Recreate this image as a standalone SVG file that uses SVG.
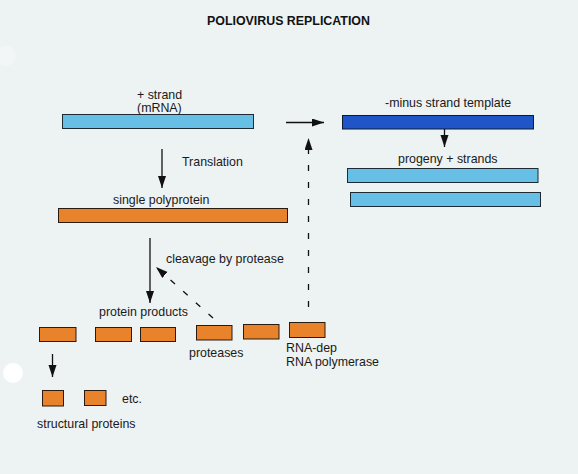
<svg xmlns="http://www.w3.org/2000/svg" width="578" height="474" viewBox="0 0 578 474">
<defs>
<marker id="ah" markerUnits="userSpaceOnUse" markerWidth="13" markerHeight="9" refX="12" refY="4" orient="auto">
<path d="M0,0 L12,4 L0,8 Z" fill="#111"/>
</marker>
<style>
text{font-family:"Liberation Sans",Arial,Helvetica,sans-serif;font-size:12.4px;fill:#1a1a1a}
.title{font-size:12.4px;font-weight:bold;fill:#111}
.lb{fill:#67BFE6;stroke:#1d2a33;stroke-width:1}
.db{fill:#1F55C6;stroke:#0d1a33;stroke-width:1}
.or{fill:#E8822B;stroke:#2a1a10;stroke-width:1}
.ar{stroke:#111;stroke-width:1.3;fill:none;marker-end:url(#ah)}
.da{stroke:#111;stroke-width:1.3;fill:none;stroke-dasharray:6 11;marker-end:url(#ah)}
</style>
</defs>
<rect width="578" height="474" fill="#EDF2F3"/>
<circle cx="13" cy="373" r="10" fill="#ffffff"/>
<circle cx="6" cy="56" r="10" fill="#F2F6F6"/>
<text class="title" x="207" y="25">POLIOVIRUS REPLICATION</text>

<g id="plus-strand">
<rect class="lb" x="62.5" y="114.5" width="191" height="14"/>
<text x="137" y="98.5">+ strand</text>
<text x="137" y="112">(mRNA)</text>
</g>
<g id="minus-strand">
<rect class="db" x="342.5" y="115.5" width="191" height="13.5"/>
<text x="385" y="107">-minus strand template</text>
</g>
<g id="progeny">
<text x="398" y="163">progeny + strands</text>
<rect class="lb" x="347.5" y="168.5" width="190.5" height="14"/>
<rect class="lb" x="350.5" y="192.5" width="190" height="14"/>
</g>
<g id="polyprotein">
<text x="113" y="204">single polyprotein</text>
<rect class="or" x="58.5" y="208.5" width="229" height="14"/>
</g>
<g id="protein-products">
<text x="99" y="316">protein products</text>
<rect class="or" x="39.5" y="327.5" width="36.5" height="14"/>
<rect class="or" x="95.5" y="327.5" width="36" height="14"/>
<rect class="or" x="140.5" y="327.5" width="35" height="14"/>
</g>
<g id="proteases">
<rect class="or" x="196.5" y="325.5" width="35.5" height="14.5"/>
<rect class="or" x="243.5" y="324.5" width="35.5" height="14.5"/>
<text x="189" y="357">proteases</text>
</g>
<g id="polymerase">
<rect class="or" x="289.5" y="322.5" width="35.5" height="15"/>
<text x="286" y="352">RNA-dep</text>
<text x="286" y="366">RNA polymerase</text>
</g>
<g id="structural-proteins">
<rect class="or" x="42.5" y="390.5" width="21" height="15.5"/>
<rect class="or" x="84.5" y="390.5" width="21.5" height="15"/>
<text x="122" y="403">etc.</text>
<text x="37" y="428">structural proteins</text>
</g>

<g id="connectors">
<line class="ar" x1="286" y1="122.5" x2="324" y2="122.5"/>
<line class="ar" x1="444.5" y1="129" x2="444.5" y2="147"/>
<line class="ar" x1="162" y1="149" x2="162" y2="188"/>
<text x="182" y="166">Translation</text>
<line class="ar" x1="150" y1="238" x2="150" y2="303"/>
<text x="166" y="263">cleavage by protease</text>
<line class="da" x1="213" y1="318" x2="156" y2="267"/>
<line class="da" x1="308.5" y1="307" x2="308.5" y2="138"/>
<line class="ar" x1="52.5" y1="354" x2="52.5" y2="377"/>
</g>
</svg>
